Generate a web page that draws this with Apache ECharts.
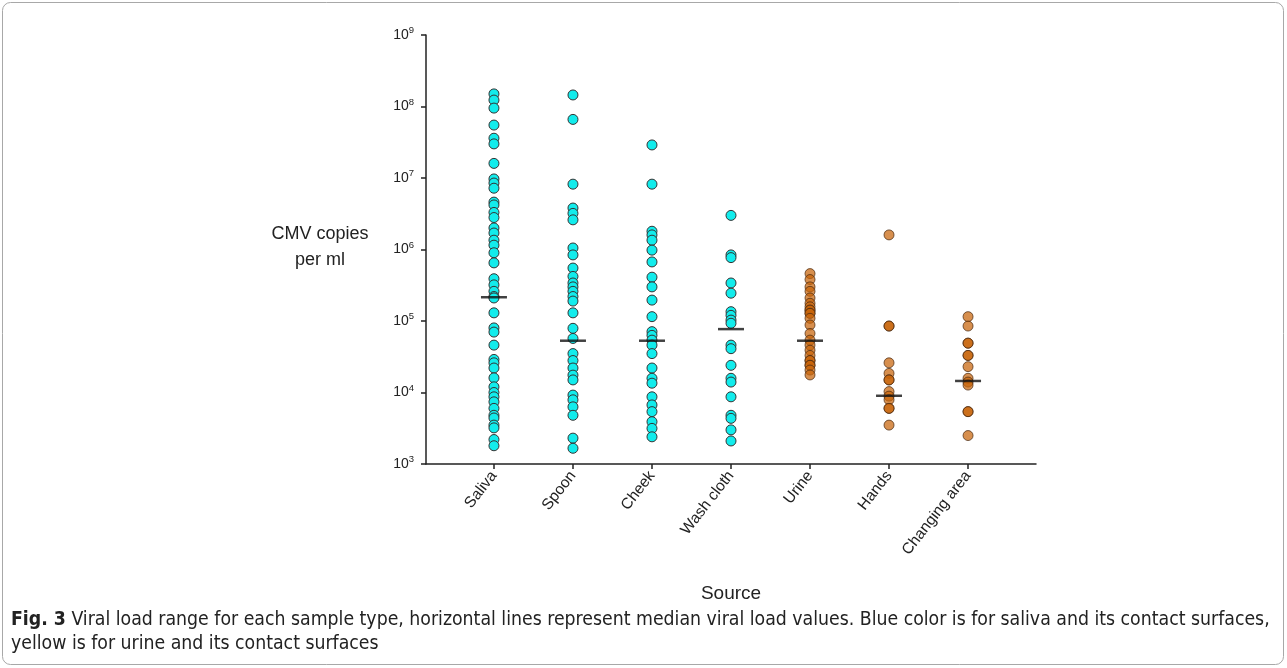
<!DOCTYPE html>
<html>
<head>
<meta charset="utf-8">
<script src="https://cdn.jsdelivr.net/npm/echarts@6/dist/echarts.min.js"></script>
<style>
  html, body { margin: 0; padding: 0; background: #fff; }
  #chart { width: 1287px; height: 668px; }
</style>
</head>
<body>
<div id="chart"></div>
<script>
// Sample types along the x axis
const categories = ['Saliva', 'Spoon', 'Cheek', 'Wash cloth', 'Urine', 'Hands', 'Changing area'];

// CMV copies per ml, one array per sample type
const saliva = [1.5e8, 1.23e8, 9.5e7, 5.5e7, 3.6e7, 3e7, 1.6e7, 9.7e6, 8.5e6, 7.2e6, 4.6e6, 4.2e6, 3.3e6, 2.8e6,
  2e6, 1.7e6, 1.35e6, 1.15e6, 9e5, 6.5e5, 3.9e5, 3.2e5, 2.6e5, 2.2e5, 2.1e5, 1.3e5, 8e4, 7e4, 4.6e4,
  2.9e4, 2.6e4, 2.2e4, 1.6e4, 1.2e4, 1e4, 8.7e3, 7.4e3, 6e3, 4.8e3, 4.4e3, 3.5e3, 3.2e3, 2.2e3, 1.8e3];
const spoon = [1.45e8, 6.6e7, 8.2e6, 3.8e6, 3.2e6, 2.6e6, 1.05e6, 8.4e5, 5.5e5, 4.2e5, 3.4e5, 3e5, 2.6e5,
  2.2e5, 1.9e5, 1.3e5, 7.9e4, 5.7e4, 3.5e4, 2.8e4, 2.2e4, 1.75e4, 1.5e4, 9.2e3, 7.9e3, 6.3e3, 4.8e3, 2.3e3, 1.66e3];
const cheek = [2.9e7, 8.2e6, 1.8e6, 1.6e6, 1.35e6, 9.8e5, 6.7e5, 4.1e5, 3e5, 1.96e5, 1.15e5, 7.1e4, 6.3e4,
  5.4e4, 4.6e4, 3.5e4, 2.2e4, 1.58e4, 1.35e4, 8.7e3, 6.7e3, 5.4e3, 3.9e3, 3.15e3, 2.4e3];
const washCloth = [3e6, 8.4e5, 7.7e5, 3.4e5, 2.45e5, 1.35e5, 1.2e5, 1.03e5, 9.3e4, 4.6e4, 4.1e4, 2.4e4,
  1.58e4, 1.4e4, 8.7e3, 4.8e3, 4.35e3, 3e3, 2.1e3];
const urine = [4.6e5, 3.8e5, 3e5, 2.6e5, 2.1e5, 1.77e5, 1.58e5, 1.42e5, 1.42e5, 1.28e5, 1.28e5, 1.09e5, 8.8e4,
  6.7e4, 5.4e4, 4.6e4, 3.9e4, 3.3e4, 2.8e4, 2.8e4, 2.4e4, 2.4e4, 2.06e4, 1.76e4];
const hands = [1.6e6, 8.5e4, 8.5e4, 2.6e4, 1.85e4, 1.5e4, 1.5e4, 1.03e4, 8.9e3, 7.9e3, 6e3, 6e3, 3.5e3];
const changingArea = [1.15e5, 8.5e4, 4.9e4, 4.9e4, 3.3e4, 3.3e4, 2.3e4, 1.58e4, 1.4e4, 1.27e4, 5.4e3, 5.4e3, 2.5e3];

// Median viral load per sample type
const medians = [2.15e5, 5.3e4, 5.3e4, 7.7e4, 5.3e4, 9e3, 1.45e4];

// Y tick exponents (decades)
const yExponents = [3, 4, 5, 6, 7, 8, 9];

const salivaGroup = [saliva, spoon, cheek, washCloth];
const urineGroup = [urine, hands, changingArea];

function toPoints(groups, offset) {
  const out = [];
  groups.forEach((arr, i) => arr.forEach(v => out.push([i + offset, v])));
  return out;
}

const AXIS_FONT = '"Liberation Sans", Arial, sans-serif';
const CAPTION_FONT = '"DejaVu Sans Condensed", "Open Sans", sans-serif';

const chart = echarts.init(document.getElementById('chart'), null, { renderer: 'canvas' });

const option = {
  animation: false,
  backgroundColor: '#ffffff',
  grid: { left: 426, right: 251, top: 35, bottom: 204, containLabel: false },
  xAxis: {
    type: 'value',
    min: -0.86,
    max: 6.86,
    splitLine: { show: false },
    axisLine: { show: true, onZero: false, lineStyle: { color: '#222', width: 1.5 } },
    axisTick: {
      show: true, length: 5, inside: false,
      customValues: categories.map((c, i) => i),
      lineStyle: { color: '#222', width: 1.5 }
    },
    axisLabel: {
      customValues: categories.map((c, i) => i),
      formatter: v => categories[Math.round(v)] || '',
      rotate: 52,
      margin: 9,
      color: '#222',
      fontFamily: AXIS_FONT,
      fontSize: 15.5
    },
    name: 'Source',
    nameLocation: 'middle',
    nameGap: 120,
    nameTextStyle: { color: '#222', fontFamily: AXIS_FONT, fontSize: 19 }
  },
  yAxis: {
    type: 'log',
    logBase: 10,
    min: 1e3,
    max: 1e9,
    interval: 1,
    splitLine: { show: false },
    axisLine: { show: true, onZero: false, lineStyle: { color: '#222', width: 1.5 } },
    axisTick: { show: true, length: 5, inside: false, lineStyle: { color: '#222', width: 1.5 } },
    axisLabel: {
      margin: 12,
      color: '#222',
      fontFamily: AXIS_FONT,
      formatter: v => {
        const e = Math.round(Math.log10(v));
        return yExponents.includes(e) ? '{b|10}{s|' + e + '}' : '';
      },
      rich: {
        b: { fontSize: 14, color: '#222', fontFamily: AXIS_FONT },
        s: { fontSize: 9.5, color: '#222', fontFamily: AXIS_FONT, padding: [0, 0, 9, 0] }
      }
    }
  },
  graphic: [
    {
      type: 'rect',
      shape: { x: 2.5, y: 2.5, width: 1281, height: 662, r: 8 },
      style: { fill: 'none', stroke: '#a8a8a8', lineWidth: 1 },
      silent: true
    },
    {
      type: 'text',
      x: 320, y: 221,
      style: {
        text: 'CMV copies\nper ml',
        align: 'center',
        fill: '#222',
        fontFamily: AXIS_FONT,
        fontSize: 18,
        lineHeight: 26
      }
    },
    {
      type: 'text',
      x: 11, y: 608,
      style: {
        text: '{f|Fig. 3} Viral load range for each sample type, horizontal lines represent median viral load values. Blue color is for saliva and its contact surfaces,\nyellow is for urine and its contact surfaces',
        fill: '#222',
        fontFamily: CAPTION_FONT,
        fontSize: 19.3,
        lineHeight: 24,
        rich: {
          f: { fontWeight: 'bold', fill: '#222', fontFamily: CAPTION_FONT, fontSize: 19.3 }
        }
      }
    }
  ],
  series: [
    {
      name: 'Saliva and contact surfaces',
      type: 'scatter',
      symbol: 'circle',
      symbolSize: 10,
      itemStyle: { color: '#12ecec', borderColor: '#333', borderWidth: 1, opacity: 1 },
      data: toPoints(salivaGroup, 0),
      z: 2
    },
    {
      name: 'Urine and contact surfaces',
      type: 'scatter',
      symbol: 'circle',
      symbolSize: 10,
      itemStyle: { color: '#c8640a', borderColor: '#4a2a10', borderWidth: 1, opacity: 0.72 },
      data: toPoints(urineGroup, 4),
      z: 2
    },
    {
      name: 'Median',
      type: 'scatter',
      symbol: 'rect',
      symbolSize: [26, 2.5],
      itemStyle: { color: '#111' },
      data: medians.map((m, i) => [i, m]),
      z: 3
    }
  ]
};

chart.setOption(option);
</script>
</body>
</html>
